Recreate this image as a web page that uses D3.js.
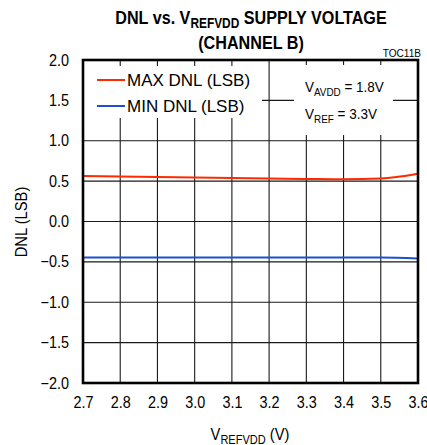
<!DOCTYPE html>
<html>
<head>
<meta charset="utf-8">
<script src="https://cdn.jsdelivr.net/npm/d3@7"></script>
<style>
  body { margin: 0; background: #fff; }
  svg { font-family: "Liberation Sans", Arial, sans-serif; }
</style>
</head>
<body>
<svg id="chart" width="427" height="445"></svg>
<script>
// data
const voltages = [2.7, 2.8, 2.9, 3.0, 3.1, 3.2, 3.3, 3.4, 3.5, 3.6];
const maxDnl = [0.562, 0.556, 0.550, 0.544, 0.538, 0.532, 0.527, 0.522, 0.532, 0.592];
const minDnl = [-0.446, -0.446, -0.446, -0.446, -0.446, -0.446, -0.446, -0.446, -0.447, -0.459];
const xTicks = [2.7, 2.8, 2.9, 3.0, 3.1, 3.2, 3.3, 3.4, 3.5, 3.6];
const yTicks = [-2.0, -1.5, -1.0, -0.5, 0.0, 0.5, 1.0, 1.5, 2.0];

const svg = d3.select('#chart');
const margin = { top: 60, right: 9, bottom: 62, left: 83 };
const width = 427 - margin.left - margin.right;
const height = 445 - margin.top - margin.bottom;

const x = d3.scaleLinear().domain([2.7, 3.6]).range([0, width]);
const y = d3.scaleLinear().domain([-2, 2]).range([height, 0]);

const g = svg.append('g').attr('transform', `translate(${margin.left},${margin.top})`);

// grid
g.append('g')
  .selectAll('line')
  .data(xTicks)
  .enter().append('line')
  .attr('x1', d => x(d)).attr('x2', d => x(d))
  .attr('y1', 0).attr('y2', height)
  .attr('stroke', '#1a1a1a').attr('stroke-width', 1.1);

g.append('g')
  .selectAll('line')
  .data(yTicks)
  .enter().append('line')
  .attr('x1', 0).attr('x2', width)
  .attr('y1', d => y(d)).attr('y2', d => y(d))
  .attr('stroke', '#1a1a1a').attr('stroke-width', 1.1);

// white boxes behind legend and note (grid ticks still show at the top)
g.append('rect').attr('x', 1).attr('y', 6).attr('width', 178).attr('height', 52).attr('fill', '#fff');
g.append('rect').attr('x', 211).attr('y', 5).attr('width', 99).attr('height', 70).attr('fill', '#fff');

// series
const line = d3.line()
  .x((d, i) => x(voltages[i]))
  .y(d => y(d))
  .curve(d3.curveMonotoneX);

g.append('path').datum(maxDnl)
  .attr('d', line).attr('fill', 'none')
  .attr('stroke', '#ff2a00').attr('stroke-width', 2);

g.append('path').datum(minDnl)
  .attr('d', line).attr('fill', 'none')
  .attr('stroke', '#1a4fd6').attr('stroke-width', 2);

// frame
g.append('rect')
  .attr('x', 0).attr('y', 0).attr('width', width).attr('height', height)
  .attr('fill', 'none').attr('stroke', '#000').attr('stroke-width', 2.6);

// axes labels (squeezed a bit to look like the narrow face of the original)
const xAxis = d3.axisBottom(x).tickValues(xTicks).tickSize(0).tickPadding(14).tickFormat(d3.format('.1f'));
const yAxis = d3.axisLeft(y).tickValues(yTicks).tickSize(0).tickPadding(14).tickFormat(d3.format('.1f'));

const xa = g.append('g').attr('transform', `translate(0,${height})`).call(xAxis);
const ya = g.append('g').call(yAxis);
[xa, ya].forEach(a => {
  a.select('.domain').remove();
  a.selectAll('text')
    .attr('font-size', 16).attr('fill', '#000');
});
xa.selectAll('text').attr('transform', 'scale(0.9,1)');
ya.selectAll('text').attr('x', 0).attr('transform', 'translate(-14,0) scale(0.9,1)');

// legend
const legend = [
  { name: 'MAX DNL (LSB)', color: '#ff2a00' },
  { name: 'MIN DNL (LSB)', color: '#1a4fd6' }
];
const lg = g.append('g').attr('transform', 'translate(14,20)');
lg.selectAll('line')
  .data(legend)
  .enter().append('line')
  .attr('x1', 0).attr('x2', 28)
  .attr('y1', (d, i) => i * 26).attr('y2', (d, i) => i * 26)
  .attr('stroke', d => d.color).attr('stroke-width', 2);
lg.selectAll('text')
  .data(legend)
  .enter().append('text')
  .attr('x', 30).attr('y', (d, i) => i * 26 + 6)
  .attr('font-size', 17)
  .text(d => d.name);

// note
const note = g.append('g').attr('font-size', 15);
const n1 = note.append('g').attr('transform', 'translate(222,32) scale(0.9,1)').append('text');
n1.append('tspan').text('V');
n1.append('tspan').attr('font-size', 11).attr('dy', 4).text('AVDD');
n1.append('tspan').attr('dy', -4).text(' = 1.8V');
const n2 = note.append('g').attr('transform', 'translate(222,59) scale(0.9,1)').append('text');
n2.append('tspan').text('V');
n2.append('tspan').attr('font-size', 11).attr('dy', 4).text('REF');
n2.append('tspan').attr('dy', -4).text(' = 3.3V');

// titles
const title = svg.append('g')
  .attr('transform', 'translate(251,0) scale(0.85,1)')
  .attr('font-weight', 'bold').attr('text-anchor', 'middle').attr('font-size', 19);
const t1 = title.append('text').attr('x', 0).attr('y', 24);
t1.append('tspan').text('DNL vs. V');
t1.append('tspan').attr('font-size', 14).attr('dy', 4).text('REFVDD');
t1.append('tspan').attr('dy', -4).text(' SUPPLY VOLTAGE');
title.append('text').attr('x', 0).attr('y', 49).text('(CHANNEL B)');

svg.append('text')
  .attr('transform', 'translate(421,57) scale(0.92,1)')
  .attr('text-anchor', 'end')
  .attr('font-size', 11).text('TOC11B');

const xt = svg.append('text')
  .attr('transform', 'translate(250,440) scale(0.92,1)')
  .attr('text-anchor', 'middle')
  .attr('font-size', 16);
xt.append('tspan').text('V');
xt.append('tspan').attr('font-size', 12).attr('dy', 4).text('REFVDD');
xt.append('tspan').attr('dy', -4).text(' (V)');

svg.append('text')
  .attr('transform', 'translate(27,222) rotate(-90) scale(0.92,1)')
  .attr('text-anchor', 'middle')
  .attr('font-size', 16)
  .text('DNL (LSB)');
</script>
</body>
</html>
